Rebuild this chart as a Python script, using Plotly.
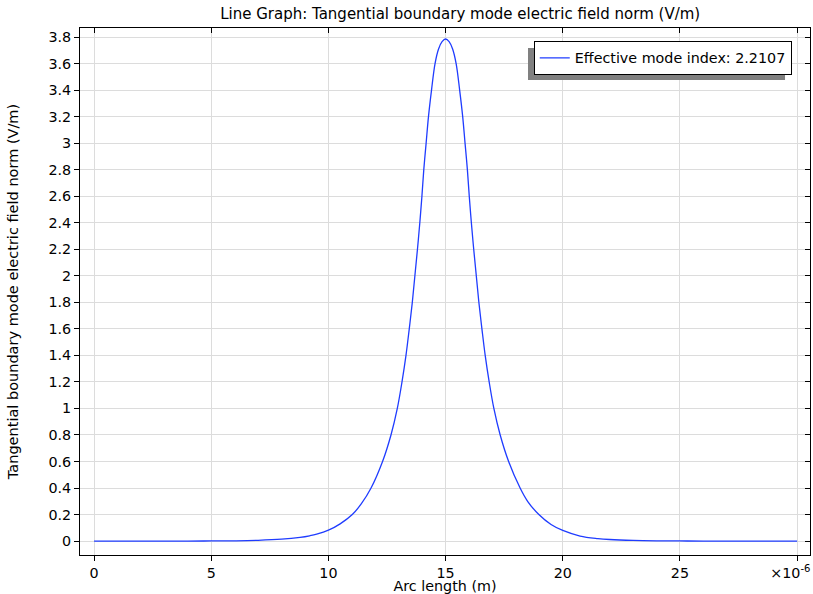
import plotly.graph_objects as go

# Data (arc length in units of 1e-6 m, field norm in V/m)
arc_length_um = [0, 2, 4, 5, 6, 7, 8, 8.79, 9.2, 9.5, 10.0, 10.5, 11.02, 11.4, 11.82,
                 12.31, 12.67, 12.94, 13.14, 13.31, 13.45, 13.58, 13.69, 13.80, 13.90,
                 13.99, 14.07, 14.17, 14.27, 14.40, 14.55, 14.7, 14.85, 15.0, 15.15,
                 15.3, 15.45, 15.6, 15.73, 15.83, 15.93, 16.01, 16.10, 16.20, 16.31,
                 16.42, 16.55, 16.69, 16.86, 17.06, 17.33, 17.69, 18.18, 18.5, 18.98,
                 19.5, 20.0, 20.74, 21.5, 22.0, 23.0, 24.0, 25.0, 26.0, 28.0, 30.0]
field_norm = [0.0, 0.0001, 0.0003, 0.0008, 0.002, 0.0055, 0.014, 0.028, 0.04, 0.052,
              0.082, 0.13, 0.2, 0.28, 0.4,
              0.6, 0.8, 1.0, 1.2, 1.4, 1.6, 1.8, 2.0, 2.2, 2.4,
              2.6, 2.8, 3.0, 3.2, 3.4, 3.6, 3.71, 3.765, 3.785, 3.765,
              3.71, 3.6, 3.4, 3.2, 3.0, 2.8, 2.6, 2.4, 2.2, 2.0,
              1.8, 1.6, 1.4, 1.2, 1.0, 0.8, 0.6, 0.4, 0.3, 0.2,
              0.125, 0.08, 0.038, 0.019, 0.012, 0.005, 0.002, 0.0008, 0.0003, 0.0001, 0.0]

x_tick_vals = [0, 5, 10, 15, 20, 25, 30]
x_tick_text = ["0", "5", "10", "15", "20", "25", "×10<sup>-6</sup>\u00a0\u00a0\u00a0"]
y_tick_vals = [0, 0.2, 0.4, 0.6, 0.8, 1, 1.2, 1.4, 1.6, 1.8, 2, 2.2, 2.4, 2.6, 2.8,
               3, 3.2, 3.4, 3.6, 3.8]
y_tick_text = ["0", "0.2", "0.4", "0.6", "0.8", "1", "1.2", "1.4", "1.6", "1.8", "2",
               "2.2", "2.4", "2.6", "2.8", "3", "3.2", "3.4", "3.6", "3.8"]

series_name = "Effective mode index: 2.2107"
title_text = "Line Graph: Tangential boundary mode electric field norm (V/m)"
x_title = "Arc length (m)"
y_title = "Tangential boundary mode electric field norm (V/m)"

FONT = "DejaVu Sans"
FS = 14.3
XR = [-0.6, 30.55]
YR = [-0.105, 3.868]

fig = go.Figure()
fig.add_trace(go.Scatter(x=arc_length_um, y=field_norm, mode="lines", name=series_name,
                         line=dict(color="#1f3cff", width=1.3), line_shape="spline"))
# invisible trace to bind the mirrored axes
fig.add_trace(go.Scatter(x=[arc_length_um[0]], y=[field_norm[0]], xaxis="x2", yaxis="y2",
                         mode="markers", marker=dict(opacity=0), showlegend=False,
                         hoverinfo="skip"))

axis_common = dict(showline=True, linecolor="black", linewidth=1, ticklen=5,
                   tickcolor="black", tickwidth=1, zeroline=False)

fig.update_layout(
    width=813, height=594,
    margin=dict(l=80, r=3, t=28, b=39, autoexpand=False),
    paper_bgcolor="white", plot_bgcolor="white",
    font=dict(family=FONT, size=FS, color="black"),
    title=dict(text=title_text, x=0.566, xanchor="center", y=0.985, yanchor="top",
               font=dict(family=FONT, size=15)),
    xaxis=dict(range=XR, tickvals=x_tick_vals, ticktext=x_tick_text, ticks="outside",
               showgrid=True, gridcolor="#dcdcdc", gridwidth=1, ticklabeloverflow="allow",
               title=dict(text=x_title, standoff=0, font=dict(size=FS)), **axis_common),
    yaxis=dict(range=YR, tickvals=y_tick_vals, ticktext=y_tick_text, ticks="outside",
               showgrid=True, gridcolor="#dcdcdc", gridwidth=1,
               title=dict(text=y_title, standoff=26, font=dict(size=14.5)), **axis_common),
    xaxis2=dict(range=XR, overlaying="x", side="top", tickvals=x_tick_vals, ticks="inside",
                showticklabels=False, showgrid=False, **axis_common),
    yaxis2=dict(range=YR, overlaying="y", side="right", tickvals=y_tick_vals, ticks="inside",
                showticklabels=False, showgrid=False, **axis_common),
    legend=dict(x=0.975, xanchor="right", y=0.9753, yanchor="top", bgcolor="white",
                bordercolor="black", borderwidth=1, font=dict(family=FONT, size=FS)),
    showlegend=True,
)

# legend drop shadow
fig.add_shape(type="rect", xref="paper", yref="paper", x0=0.6137, x1=0.9658, y0=0.9013, y1=0.962,
              fillcolor="#808080", line=dict(width=0), layer="above")

fig.write_html("out.html", config={"displayModeBar": False},
               post_script="document.body.style.margin='0';document.body.style.overflow='hidden';")
